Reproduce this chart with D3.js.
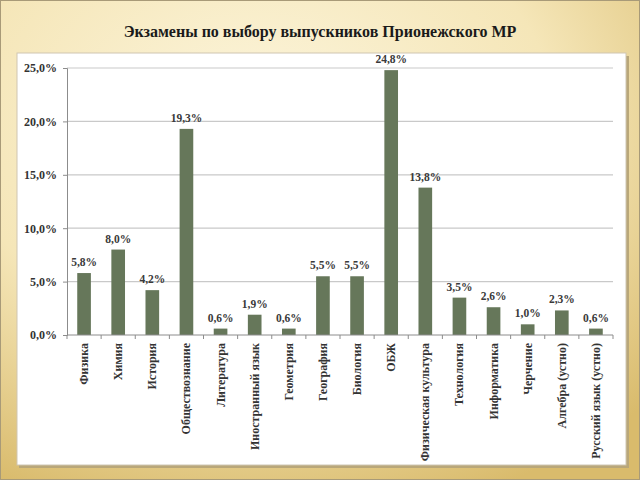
<!DOCTYPE html>
<html><head><meta charset="utf-8">
<script src="https://d3js.org/d3.v7.min.js"></script>
<style>body{margin:0;padding:0;}svg{display:block;} svg text{font-family:'Liberation Serif','Times New Roman',serif !important;font-weight:bold;}</style>
</head><body>
<script>
const title = "Экзамены по выбору выпускников Прионежского МР";
const categories = ["Физика","Химия","История","Обществознание","Литература","Иностранный язык","Геометрия","География","Биология","ОБЖ","Физическая культура","Технология","Информатика","Черчение","Алгебра (устно)","Русский язык (устно)"];
const values = [5.8,8.0,4.2,19.3,0.6,1.9,0.6,5.5,5.5,24.8,13.8,3.5,2.6,1.0,2.3,0.6];
const yTicks = [0,5,10,15,20,25];

const W=640,H=480;
const svg=d3.select("body").append("svg").attr("width",W).attr("height",H);
const defs=svg.append("defs");
const rg=defs.append("radialGradient").attr("id","bg").attr("cx","40%").attr("cy","25%").attr("r","85%");
rg.append("stop").attr("offset","0%").attr("stop-color","#fcf5dc");
rg.append("stop").attr("offset","55%").attr("stop-color","#f5e6b8");
rg.append("stop").attr("offset","100%").attr("stop-color","#d9bb6c");
svg.append("rect").attr("width",W).attr("height",H).attr("fill","url(#bg)");
svg.append("rect").attr("x",0.5).attr("y",0.5).attr("width",W-1).attr("height",H-1).attr("fill","none").attr("stroke","#a89a78");

const font="'Liberation Serif', serif";

// white panel with shadow
svg.append("rect").attr("x",19).attr("y",56).attr("width",610).attr("height",412).attr("fill","#b9a779");
svg.append("rect").attr("x",17).attr("y",53).attr("width",609).attr("height",412).attr("fill","#ffffff").attr("stroke","#cfc6b2").attr("stroke-width",1);

svg.append("text").attr("x",320).attr("y",37).attr("text-anchor","middle")
  .style("font-family",font).style("font-weight","bold")
  .style("font-size","16px").attr("fill","#1a1a1a").text(title);

const pL=67,pR=613,pT=68,pB=335;
const x=d3.scaleBand().domain(categories).range([pL,pR]).paddingInner(0.6).paddingOuter(0.3);
const xb=d3.scaleBand().domain(categories).range([pL,pR]);
const y=d3.scaleLinear().domain([0,25]).range([pB,pT]);
const fmt=v=>d3.format(".1f")(v).replace(".",",")+"%";

// gridlines
svg.append("g").selectAll("line").data(yTicks.filter(d=>d>0)).join("line")
  .attr("x1",pL).attr("x2",pR).attr("y1",d=>y(d)).attr("y2",d=>y(d))
  .attr("stroke","#c9c9c9").attr("stroke-width",1.2);

// y axis
const ya=svg.append("g").attr("transform",`translate(${pL},0)`)
  .call(d3.axisLeft(y).tickValues(yTicks).tickSize(4).tickPadding(6).tickFormat(fmt));
ya.attr("font-family",null);
ya.select(".domain").attr("stroke","#8c8c8c");
ya.selectAll(".tick line").attr("stroke","#8c8c8c");
ya.selectAll("text").style("font-family",font).style("font-weight","bold").style("font-size","12px").attr("fill","#333");

// bars
svg.append("g").selectAll("rect").data(values).join("rect")
  .attr("x",(d,i)=>x(categories[i])).attr("width",x.bandwidth())
  .attr("y",d=>y(d)).attr("height",d=>pB-y(d)).attr("fill","#66775a");

// value labels
svg.append("g").selectAll("text").data(values).join("text")
  .attr("x",(d,i)=>x(categories[i])+x.bandwidth()/2).attr("y",d=>y(d)-7)
  .attr("text-anchor","middle").style("font-family",font).style("font-weight","bold")
  .style("font-size","11.5px").attr("fill","#3a3a3a").text(fmt);

// x axis
const xg=svg.append("g");
xg.append("line").attr("x1",pL).attr("x2",pR).attr("y1",pB).attr("y2",pB).attr("stroke","#8c8c8c");
xg.selectAll("line.t").data(d3.range(categories.length+1)).join("line").attr("class","t")
  .attr("x1",i=>pL+i*xb.step()).attr("x2",i=>pL+i*xb.step()).attr("y1",pB).attr("y2",pB+4).attr("stroke","#8c8c8c");
xg.selectAll("text.c").data(categories).join("text").attr("class","c")
  .attr("transform",d=>`translate(${x(d)+x.bandwidth()/2+4},${pB+8}) rotate(-90)`)
  .attr("text-anchor","end").style("font-family",font).style("font-weight","bold")
  .style("font-size","12px").attr("fill","#333").text(d=>d);
</script>
</body></html>
